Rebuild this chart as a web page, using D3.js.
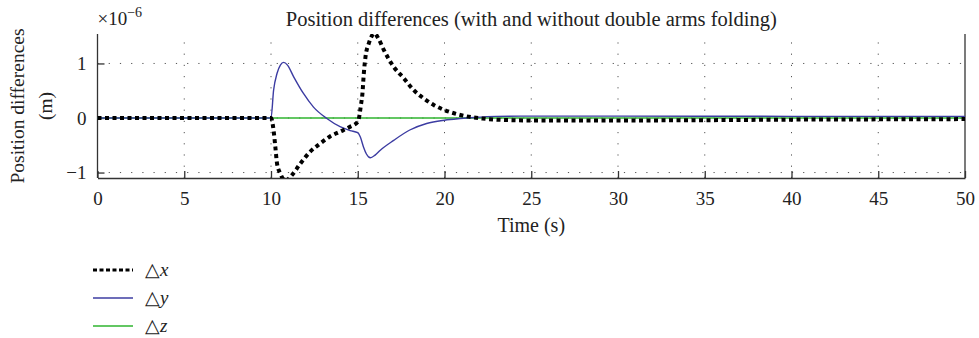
<!DOCTYPE html>
<html>
<head>
<meta charset="utf-8">
<script src="https://cdn.jsdelivr.net/npm/d3@7"></script>
<style>
  html, body { margin: 0; padding: 0; background: #fff; }
  svg { display: block; }
  text { font-family: "Liberation Serif", "Times New Roman", serif; fill: #222; }
</style>
</head>
<body>
<svg id="chart" width="979" height="338"></svg>
<script>
// Time samples and position differences (units of 1e-6 m)
const dxTime = [0, 10.0, 10.15, 10.25, 10.35, 10.54, 10.7, 10.85, 11.0, 11.2, 11.68, 12.25, 12.83, 13.4, 13.98, 14.56, 15.0, 15.1, 15.17, 15.27, 15.35, 15.45, 15.64, 15.8, 15.97, 16.2, 16.5, 17.07, 17.65, 18.23, 18.8, 19.38, 19.96, 20.73, 21.67, 22.2, 23.0, 25, 30, 35, 40, 45, 50];
const dxValues = [0, 0, -0.23, -0.53, -0.84, -1.02, -1.12, -1.15, -1.12, -1.05, -0.84, -0.62, -0.47, -0.34, -0.25, -0.16, -0.07, 0.05, 0.21, 0.45, 0.82, 1.13, 1.37, 1.5, 1.55, 1.45, 1.25, 0.94, 0.73, 0.51, 0.36, 0.24, 0.15, 0.07, 0.01, -0.01, -0.03, -0.045, -0.045, -0.04, -0.03, -0.025, -0.02];

const dyTime = [0, 10, 10.15, 10.35, 10.54, 10.73, 10.95, 11.3, 11.87, 12.45, 13.22, 13.98, 14.56, 15.0, 15.15, 15.33, 15.5, 15.73, 16.0, 16.3, 17.07, 18.0, 18.97, 20.0, 20.9, 21.7, 23, 25, 30, 40, 50];
const dyValues = [0, 0, 0.51, 0.82, 0.97, 1.02, 0.97, 0.76, 0.45, 0.20, -0.01, -0.16, -0.23, -0.27, -0.35, -0.53, -0.66, -0.73, -0.68, -0.59, -0.41, -0.22, -0.10, -0.04, -0.01, 0.01, 0.03, 0.035, 0.035, 0.03, 0.03];

const dzTime = [0, 50];
const dzValues = [0, 0];

const xTicks = [0, 5, 10, 15, 20, 25, 30, 35, 40, 45, 50];
const yTicks = [-1, 0, 1];
const yTickLabels = ["\u22121", "0", "1"];

const seriesNames = ["x", "y", "z"];
const seriesColors = ["#000000", "#3c3ca2", "#2fb52f"];

const svg = d3.select("#chart");
const W = 979;
const plotLeft = 97.5, plotRight = W - 14, plotTop = 34, plotBottom = 178;

const x = d3.scaleLinear().domain([0, 50]).range([plotLeft, plotRight]);
const y = d3.scaleLinear().domain([-1.1, 1.54]).range([plotBottom, plotTop]);

// clip for the data lines
svg.append("defs").append("clipPath").attr("id", "plotClip")
  .append("rect")
  .attr("x", x(0)).attr("y", y(1.54))
  .attr("width", x(50) - x(0)).attr("height", y(-1.1) - y(1.54));

// dotted grid
const grid = svg.append("g").attr("stroke", "#555").attr("stroke-width", 1)
  .attr("stroke-dasharray", "1.2,10").attr("fill", "none");
grid.selectAll("line.v").data(xTicks.slice(1, -1)).join("line")
  .attr("x1", d => x(d)).attr("x2", d => x(d))
  .attr("y1", plotBottom).attr("y2", plotTop);
grid.selectAll("line.h").data(yTicks).join("line")
  .attr("x1", x(0)).attr("x2", x(50))
  .attr("y1", d => y(d)).attr("y2", d => y(d));

// axes
const xAxis = d3.axisBottom(x).tickValues(xTicks).tickSizeInner(-7).tickSizeOuter(0).tickPadding(14);
const gx = svg.append("g").attr("transform", `translate(0,${plotBottom})`).call(xAxis);
const yAxis = d3.axisLeft(y).tickValues(yTicks).tickFormat((d, i) => yTickLabels[i])
  .tickSizeInner(-7).tickSizeOuter(0).tickPadding(11);
const gy = svg.append("g").attr("transform", `translate(${x(0)},0)`).call(yAxis);
[gx, gy].forEach(g => {
  g.select(".domain").attr("stroke", "#333").attr("stroke-width", 1.3);
  g.selectAll(".tick line").attr("stroke", "#333").attr("stroke-width", 1.3);
  g.selectAll(".tick text").attr("font-family", "Liberation Serif, serif")
    .attr("font-size", 19).attr("fill", "#222");
});
gy.select(".domain").attr("d", `M0,${plotBottom}V${plotTop}`);
// right-hand border
svg.append("line").attr("x1", x(50)).attr("x2", x(50))
  .attr("y1", plotBottom).attr("y2", plotTop)
  .attr("stroke", "#333").attr("stroke-width", 1.3);

// lines
const lineGen = d3.line().x(d => x(d[0])).y(d => y(d[1])).curve(d3.curveMonotoneX);
const plot = svg.append("g").attr("clip-path", "url(#plotClip)");
plot.append("path").datum(dzTime.map((t, i) => [t, dzValues[i]]))
  .attr("d", lineGen).attr("fill", "none")
  .attr("stroke", seriesColors[2]).attr("stroke-width", 1.4);
plot.append("path").datum(dyTime.map((t, i) => [t, dyValues[i]]))
  .attr("d", lineGen).attr("fill", "none")
  .attr("stroke", seriesColors[1]).attr("stroke-width", 1.4);
plot.append("path").datum(dxTime.map((t, i) => [t, dxValues[i]]))
  .attr("d", lineGen).attr("fill", "none")
  .attr("stroke", seriesColors[0]).attr("stroke-width", 4)
  .attr("stroke-dasharray", "4,3.5");

// title and exponent
svg.append("text").attr("x", (x(0) + x(50)) / 2).attr("y", 26)
  .attr("text-anchor", "middle").attr("font-size", 20.5)
  .text("Position differences (with and without double arms folding)");
const expo = svg.append("text").attr("x", x(0)).attr("y", 25).attr("font-size", 19);
expo.append("tspan").text("\u00d710");
expo.append("tspan").attr("dy", -8).attr("font-size", 14).text("\u22126");

// axis labels
svg.append("text").attr("transform", `translate(24,106) rotate(-90)`)
  .attr("text-anchor", "middle").attr("font-size", 19.5).text("Position differences");
svg.append("text").attr("transform", `translate(52,106) rotate(-90)`)
  .attr("text-anchor", "middle").attr("font-size", 19.5).text("(m)");
svg.append("text").attr("x", (x(0) + x(50)) / 2).attr("y", 232)
  .attr("text-anchor", "middle").attr("font-size", 20).text("Time (s)");

// legend
const legendY = [270, 298, 326];
const legend = svg.append("g");
seriesNames.forEach((name, i) => {
  const ly = legendY[i];
  legend.append("line").attr("x1", 93).attr("x2", 133).attr("y1", ly).attr("y2", ly)
    .attr("stroke", seriesColors[i])
    .attr("stroke-width", i === 0 ? 3 : 1.4)
    .attr("stroke-dasharray", i === 0 ? "4,2.5" : null);
  const t = legend.append("text").attr("x", 145).attr("y", ly + 6).attr("font-size", 19);
  t.append("tspan").text("\u25b3");
  t.append("tspan").attr("font-style", "italic").text(name);
});
</script>
</body>
</html>
